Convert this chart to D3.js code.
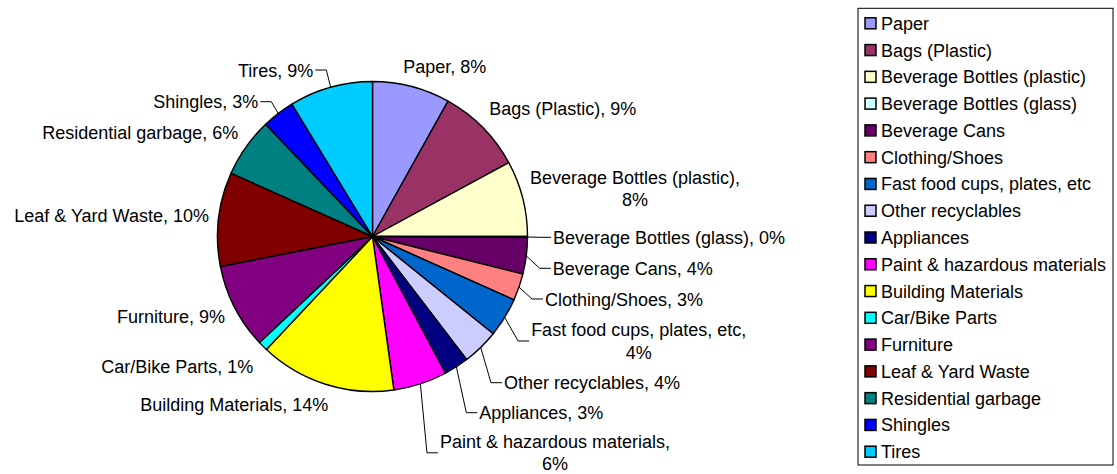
<!DOCTYPE html>
<html>
<head>
<meta charset="utf-8">
<script src="https://cdn.jsdelivr.net/npm/d3@7"></script>
<style>
  html, body { margin: 0; padding: 0; background: #fff; }
  svg { display: block; }
  text { font-family: "Liberation Sans", Arial, sans-serif; font-size: 18px; fill: #000; }
</style>
</head>
<body>
<svg id="chart" width="1117" height="474"></svg>
<script>
// ---- data ----
const categories = [
  "Paper", "Bags (Plastic)", "Beverage Bottles (plastic)", "Beverage Bottles (glass)",
  "Beverage Cans", "Clothing/Shoes", "Fast food cups, plates, etc", "Other recyclables",
  "Appliances", "Paint & hazardous materials", "Building Materials", "Car/Bike Parts",
  "Furniture", "Leaf & Yard Waste", "Residential garbage", "Shingles", "Tires"
];
const values = [8.1, 9.0, 7.9, 0.1, 3.8, 2.8, 4.1, 3.8, 2.6, 5.6, 14.2, 1.0, 8.9, 9.8, 6.2, 3.4, 8.7];
const colors = [
  "#9999FF", "#993366", "#FFFFCC", "#CCFFFF", "#660066", "#FF8080", "#0066CC", "#CCCCFF",
  "#000080", "#FF00FF", "#FFFF00", "#00FFFF", "#800080", "#800000", "#008080", "#0000FF", "#00CCFF"
];

// ---- layout (label placement relative to pie centre) ----
const labelLayout = [
  { dx: 30.8,   dy: -170.5, anchor: "start",  leader: false, wrap: false },
  { dx: 116.8,  dy: -128.2, anchor: "start",  leader: false, wrap: false },
  { dx: 262.5,  dy: -48,    anchor: "middle", leader: false, wrap: true  },
  { dx: 180.5,  dy: 0.8,    anchor: "start",  leader: true,  wrap: false },
  { dx: 180.2,  dy: 31.8,   anchor: "start",  leader: true,  wrap: false },
  { dx: 172.5,  dy: 62.5,   anchor: "start",  leader: true,  wrap: false },
  { dx: 266.2,  dy: 104.5,  anchor: "middle", leader: true,  wrap: true  },
  { dx: 131.5,  dy: 146.2,  anchor: "start",  leader: true,  wrap: false },
  { dx: 106.8,  dy: 176.2,  anchor: "start",  leader: true,  wrap: false },
  { dx: 182.5,  dy: 216.3,  anchor: "middle", leader: true,  wrap: true  },
  { dx: -44.2,  dy: 167.5,  anchor: "end",    leader: false, wrap: false },
  { dx: -119.2, dy: 130.2,  anchor: "end",    leader: false, wrap: false },
  { dx: -147.5, dy: 80.2,   anchor: "end",    leader: false, wrap: false },
  { dx: -163.5, dy: -20.8,  anchor: "end",    leader: false, wrap: false },
  { dx: -134.2, dy: -104.5, anchor: "end",    leader: false, wrap: false },
  { dx: -114.2, dy: -134.8, anchor: "end",    leader: true,  wrap: false },
  { dx: -59.2,  dy: -166.5, anchor: "end",    leader: true,  wrap: false }
];

const cx = 372.5, cy = 236.5, r = 155;
const lineH = 22.2;      // two-line label spacing
const baseShift = 6.5;   // baseline offset from visual centre

const svg = d3.select("#chart");
const data = categories.map((c, i) => ({ name: c, value: values[i], color: colors[i], layout: labelLayout[i] }));

const pie = d3.pie().sort(null).value(d => d.value);
const arcs = pie(data);
const arc = d3.arc().innerRadius(0).outerRadius(r);
const edgeArc = d3.arc().innerRadius(r).outerRadius(r);

const g = svg.append("g").attr("transform", `translate(${cx},${cy})`);

g.selectAll("path.slice")
  .data(arcs)
  .join("path")
  .attr("class", "slice")
  .attr("d", arc)
  .attr("fill", d => d.data.color)
  .attr("stroke", "#000")
  .attr("stroke-width", 1.4)
  .attr("stroke-linejoin", "round");

// labels
const fmt = v => Math.round(v) + "%";
const labelG = g.append("g");
arcs.forEach(d => {
  const L = d.data.layout;
  const full = `${d.data.name}, ${fmt(d.data.value)}`;
  let lines = [full];
  if (L.wrap) lines = [`${d.data.name},`, fmt(d.data.value)];
  const t = labelG.append("text").attr("text-anchor", L.anchor);
  const y0 = L.dy - (lines.length - 1) * lineH / 2;
  lines.forEach((ln, k) => {
    t.append("tspan").attr("x", L.dx).attr("y", y0 + k * lineH + baseShift).text(ln);
  });
  if (L.leader) {
    const bb = t.node().getBBox();
    const textLeft = bb.x, textRight = bb.x + bb.width;
    const edge = edgeArc.centroid(d);
    let pts;
    if (L.anchor === "end") {
      pts = [edge, [textRight + 13, L.dy], [textRight + 2, L.dy]];
    } else {
      pts = [edge, [textLeft - 13, L.dy], [textLeft - 2, L.dy]];
    }
    labelG.append("path")
      .attr("d", d3.line()(pts))
      .attr("fill", "none")
      .attr("stroke", "#000")
      .attr("stroke-width", 1);
  }
});

// legend
const legX = 858, legY = 8.3, legW = 255, legH = 456.7;
const legend = svg.append("g");
legend.append("rect")
  .attr("x", legX).attr("y", legY).attr("width", legW).attr("height", legH)
  .attr("fill", "#fff").attr("stroke", "#000").attr("stroke-width", 1);

const rowY = d3.scalePoint().domain(categories).range([23.3, 451.7]);
const items = legend.selectAll("g.item").data(data).join("g").attr("class", "item")
  .attr("transform", d => `translate(0,${rowY(d.name)})`);
items.append("rect")
  .attr("x", 865).attr("y", -5.5).attr("width", 11).attr("height", 11)
  .attr("fill", d => d.color).attr("stroke", "#000").attr("stroke-width", 1.5);
items.append("text")
  .attr("x", 881).attr("y", baseShift)
  .text(d => d.name);
</script>
</body>
</html>
